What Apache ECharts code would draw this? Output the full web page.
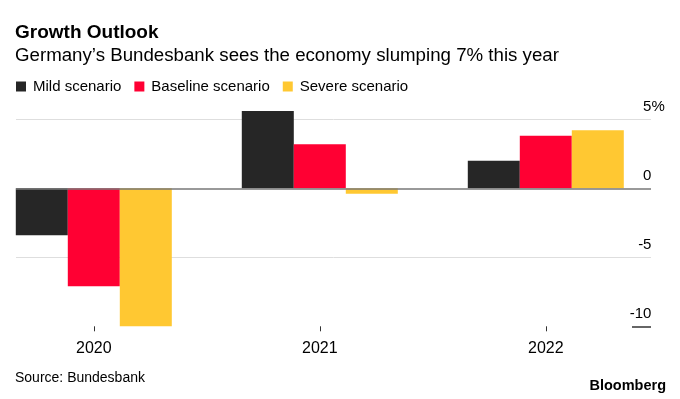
<!DOCTYPE html>
<html>
<head>
<meta charset="utf-8">
<script src="https://cdn.jsdelivr.net/npm/echarts@6/dist/echarts.min.js"></script>
<style>html,body{margin:0;padding:0;background:#fff}#c{width:680px;height:399px}</style>
</head>
<body>
<div id="c"></div>
<script>
const categories = ['2020', '2021', '2022'];
const mild = [-3.4, 5.6, 2.0];
const baseline = [-7.1, 3.2, 3.8];
const severe = [-10.0, -0.4, 4.2];
const yTicks = [-10, -5, 0, 5];

const FONT = '"Liberation Sans", Arial, sans-serif';
const chart = echarts.init(document.getElementById('c'), null, {renderer: 'canvas'});

const lightGrid = [
  [{x: 16, yAxis: 5, lineStyle: {color: '#dedede', width: 1, type: 'solid'}}, {x: 651, yAxis: 5}],
  [{x: 16, yAxis: -5, lineStyle: {color: '#dedede', width: 1, type: 'solid'}}, {x: 651, yAxis: -5}]
];
const baseLines = [
  [{x: 16, yAxis: 0, lineStyle: {color: '#777777', width: 1.5, type: 'solid'}}, {x: 651, yAxis: 0}],
  [{x: 632, yAxis: -10, lineStyle: {color: '#333333', width: 1.5, type: 'solid'}}, {x: 651, yAxis: -10}]
];

chart.setOption({
  animation: false,
  backgroundColor: '#ffffff',
  textStyle: {fontFamily: FONT},
  title: [
    {text: 'Growth Outlook', left: 15, top: 23, padding: 0,
     textStyle: {fontFamily: FONT, fontSize: 19, fontWeight: 'bold', color: '#000'}},
    {text: 'Germany\u2019s Bundesbank sees the economy slumping 7% this year', left: 15, top: 46, padding: 0,
     textStyle: {fontFamily: FONT, fontSize: 18.7, fontWeight: 'normal', color: '#000'}},
    {text: 'Source: Bundesbank', left: 15, top: 371, padding: 0,
     textStyle: {fontFamily: FONT, fontSize: 14, fontWeight: 'normal', color: '#000'}},
    {text: 'Bloomberg', right: 14, top: 378, padding: 0,
     textStyle: {fontFamily: FONT, fontSize: 14.5, fontWeight: 'bold', color: '#000'}}
  ],
  legend: {
    left: 16, top: 79, padding: 0,
    itemWidth: 10, itemHeight: 10, itemGap: 13,
    icon: 'rect',
    textStyle: {fontFamily: FONT, fontSize: 15, color: '#000', padding: [0, 0, 0, 2]},
    data: ['Mild scenario', 'Baseline scenario', 'Severe scenario']
  },
  grid: {left: -19.2, right: 21.2, top: 105.5, bottom: 72.7, containLabel: false, outerBoundsMode: 'none'},
  xAxis: {
    type: 'category', data: categories,
    axisLine: {show: false, onZero: false},
    axisTick: {show: true, alignWithLabel: true, length: 5, lineStyle: {color: '#333', width: 1}},
    axisLabel: {fontFamily: FONT, fontSize: 16, color: '#000', margin: 14},
    splitLine: {show: false}
  },
  yAxis: {
    type: 'value', position: 'right', min: -10, max: 6, interval: 5, offset: 7,
    axisLine: {show: false}, axisTick: {show: false}, splitLine: {show: false},
    axisLabel: {
      inside: true, margin: 1, fontFamily: FONT, fontSize: 15, color: '#000',
      verticalAlign: 'bottom', padding: [0, 0, 5, 0],
      customValues: yTicks,
      formatter: v => v === 5 ? '{n|5}{p|%}' : '{n|' + v + '}{h|%}',
      rich: {
        n: {fontFamily: FONT, fontSize: 15, color: '#000'},
        p: {fontFamily: FONT, fontSize: 15, color: '#000'},
        h: {fontFamily: FONT, fontSize: 15, color: 'rgba(0,0,0,0)'}
      }
    }
  },
  series: [
    {name: 'Mild scenario', type: 'bar', data: mild, barWidth: 52, barGap: '0%', z: 3,
     itemStyle: {color: '#262626'},
     markLine: {silent: true, symbol: 'none', label: {show: false}, z: 1,
                lineStyle: {type: 'solid'}, data: lightGrid}},
    {name: 'Baseline scenario', type: 'bar', data: baseline, barWidth: 52, barGap: '0%', z: 3,
     itemStyle: {color: '#ff0033'}},
    {name: 'Severe scenario', type: 'bar', data: severe, barWidth: 52, barGap: '0%', z: 3,
     itemStyle: {color: '#ffc832'},
     markLine: {silent: true, symbol: 'none', label: {show: false}, z: 10,
                lineStyle: {type: 'solid'}, data: baseLines}}
  ]
});
</script>
</body>
</html>
